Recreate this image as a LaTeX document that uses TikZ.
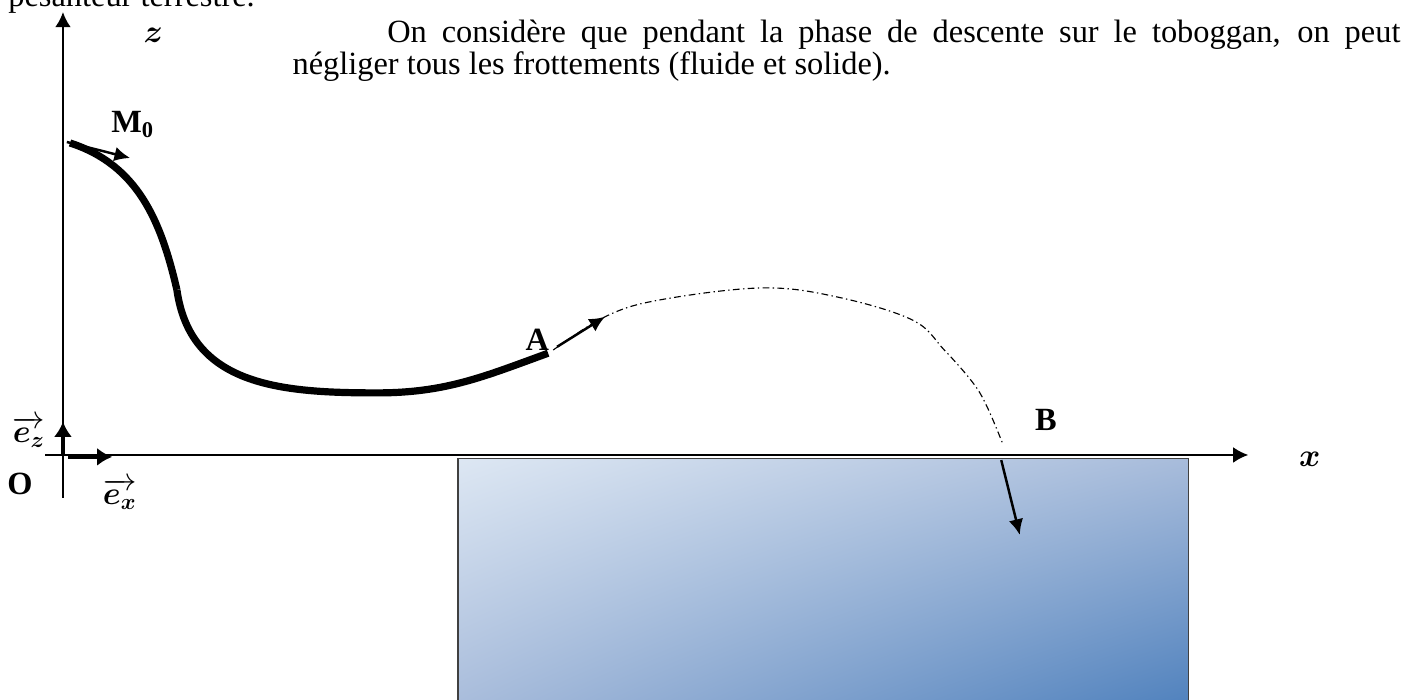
\documentclass[12pt,tikz,border=0pt]{standalone}
\usepackage{amsmath, amssymb}
\usepackage{fontspec}
\setmainfont{Liberation Serif}
\usepackage{tikz}
\usetikzlibrary{arrows.meta,shadings}

\definecolor{waterlight}{RGB}{221,231,243}
\definecolor{watermid}{RGB}{168,188,219}
\definecolor{waterdark}{RGB}{79,129,189}

\begin{document}
\begin{tikzpicture}[
  font=\large,
  axis/.style={line width=0.9pt, -{Latex[length=6.7pt,width=7pt]}},
  unitvec/.style={line width=2pt, -{Latex[length=6.7pt,width=8pt]}},
  velo/.style={line width=1.1pt, -{Latex[length=7pt,width=6.5pt]}},
  slide/.style={line width=3.2pt},
  traj/.style={line width=0.5pt, dash pattern=on 3pt off 1.5pt on 0.6pt off 1.5pt},
  lbl/.style={font=\large\bfseries},
]
  \clip (-0.984,-3.828) rectangle (21.078,7.109);
  % water pool
  \shade[upper left=waterlight, upper right=watermid, lower left=watermid, lower right=waterdark]
    (6.17,-0.05) rectangle (17.59,-3.95);
  \draw[line width=0.6pt, black!75] (6.17,-3.95) -- (6.17,-0.05) -- (17.59,-0.05) -- (17.59,-3.95);
  % axes
  \coordinate (O) at (0,0);
  \coordinate (zbot) at (0,-0.67);
  \coordinate (ztop) at (0,6.92);
  \coordinate (xleft) at (-0.28,0);
  \coordinate (xright) at (18.52,0);
  \draw[axis] (zbot) -- (ztop);
  \draw[axis] (xleft) -- (xright);
  % unit vectors
  \coordinate (ezend) at (0,0.52);
  \coordinate (exstart) at (0.08,-0.03);
  \coordinate (exend) at (0.77,-0.03);
  \draw[unitvec] (O) -- (ezend);
  \draw[unitvec] (exstart) -- (exend);
  \node[lbl] (Olbl) at (-0.67,-0.45) {O};
  \node (ezlbl) at (-0.53,0.36) {$\overrightarrow{\boldsymbol{e}_{\boldsymbol{z}}}$};
  \node (exlbl) at (0.89,-0.61) {$\overrightarrow{\boldsymbol{e}_{\boldsymbol{x}}}$};
  \node (zlbl) at (1.41,6.55) {$\boldsymbol{z}$};
  \node (xlbl) at (19.48,-0.06) {$\boldsymbol{x}$};
  % text
  \node[anchor=base west, inner sep=0] (txt0) at (-0.86,7.0) {pesanteur terrestre.};
  \node[anchor=base west, inner sep=0] (txt1) at (5.06,6.45)
    {\makebox[15.83cm][s]{On considère que pendant la phase de descente sur le toboggan, on peut}};
  \node[anchor=base west, inner sep=0] (txt2) at (3.58,5.94) {négliger tous les frottements (fluide et solide).};
  % toboggan
  \coordinate (M0) at (0.11,4.875);
  \coordinate (K) at (1.78,2.58);
  \coordinate (bot) at (4.91,0.97);
  \coordinate (A) at (7.58,1.59);
  \draw[slide] (M0) to[out=-18, in=103] (K);
  \draw[slide] (K) to[out=-82, in=180, looseness=1.1] (bot) to[out=0, in=200] (A);
  \coordinate (vM0tail) at (0.06,4.89);
  \coordinate (vM0) at (1.05,4.64);
  \draw[velo] (vM0tail) -- (vM0);
  \node[lbl] (M0lbl) at (1.09,5.17) {M\textsubscript{0}};
  % jump
  \coordinate (vAtail) at (7.72,1.69);
  \coordinate (vA) at (8.47,2.16);
  \draw[velo] (vAtail) -- (vA);
  \node[lbl] (Albl) at (7.41,1.80) {A};
  \draw[traj] plot[smooth, tension=0.6] coordinates {(7.66,1.64) (8.47,2.16) (9.31,2.42) (10.92,2.61)
    (12.09,2.47) (13.27,2.11) (13.77,1.64) (14.22,1.125) (14.44,0.75) (14.69,0.16)};
  \node[lbl] (Blbl) at (15.36,0.55) {B};
  \coordinate (vBtail) at (14.66,-0.08);
  \coordinate (vB) at (14.95,-1.25);
  \draw[velo] (vBtail) -- (vB);
\end{tikzpicture}
\end{document}
